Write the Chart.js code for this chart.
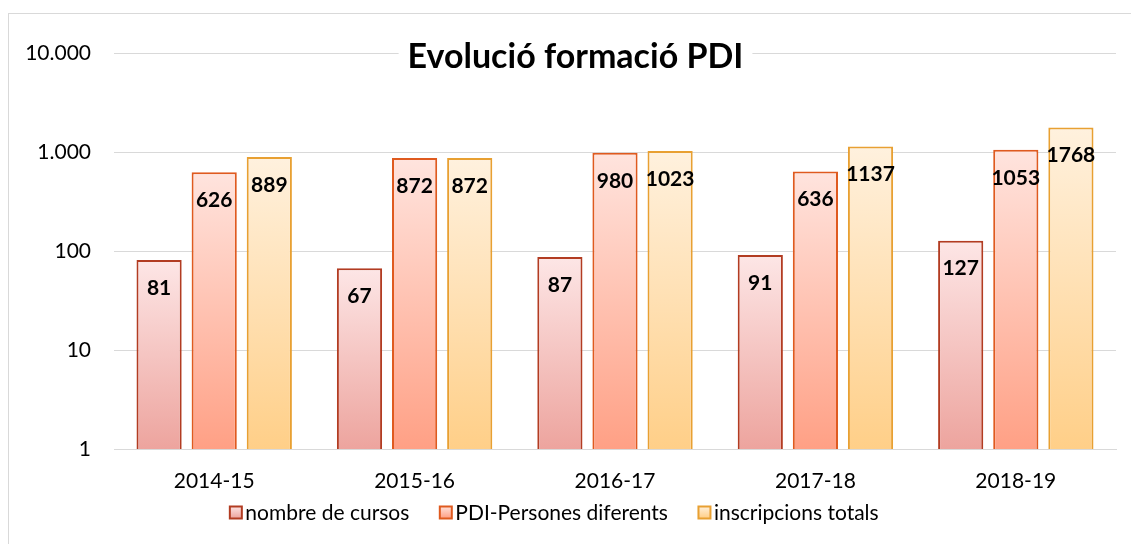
<!DOCTYPE html>
<html>
<head>
<meta charset="utf-8">
<script src="https://cdn.jsdelivr.net/npm/chart.js@4"></script>
<style>
  html, body { margin: 0; padding: 0; background: #fff; }
  #wrap { position: relative; width: 1131px; height: 544px; }
</style>
</head>
<body>
<div id="wrap"><canvas id="myChart"></canvas></div>
<script>
const categories = ['2014-15', '2015-16', '2016-17', '2017-18', '2018-19']
const nombreCursos = [81, 67, 87, 91, 127]
const pdiPersones = [626, 872, 980, 636, 1053]
const inscripcions = [889, 872, 1023, 1137, 1768]
const yTicks = [1, 10, 100, 1000, 10000]
const titol = 'Evolució formació PDI'

const FONT = 'Lato, "Open Sans", sans-serif'

// top colour, bottom colour, border
const colors = [
  ['#fde6e6', '#eda49e', '#b23c22'],
  ['#ffe4de', '#ffa085', '#df5a1f'],
  ['#fff1de', '#ffcf88', '#e8a032']
]

function barGradient(idx) {
  return function (context) {
    const chart = context.chart
    const area = chart.chartArea
    if (!area || context.type !== 'data') return colors[idx][1]
    const top = chart.scales.y.getPixelForValue(context.raw)
    const g = chart.ctx.createLinearGradient(0, top, 0, area.bottom)
    g.addColorStop(0, colors[idx][0])
    g.addColorStop(1, colors[idx][1])
    return g
  }
}

// labels inside the bar, near the top
const valueLabels = {
  id: 'valueLabels',
  afterDatasetsDraw(chart) {
    const ctx = chart.ctx
    ctx.save()
    ctx.font = 'bold 21px ' + FONT
    ctx.fillStyle = '#000'
    ctx.textAlign = 'center'
    ctx.textBaseline = 'middle'
    chart.data.datasets.forEach((ds, i) => {
      chart.getDatasetMeta(i).data.forEach((bar, j) => {
        ctx.fillText(ds.data[j], bar.x, bar.y + 28)
      })
    })
    ctx.restore()
  }
}

// title sitting on the top grid line, plus frame and legend
const decor = {
  id: 'decor',
  beforeDraw(chart) {
    const ctx = chart.ctx
    ctx.save()
    ctx.fillStyle = '#fff'
    ctx.fillRect(0, 0, chart.width, chart.height)
    ctx.strokeStyle = '#d9d9d9'
    ctx.lineWidth = 1
    ctx.strokeRect(8.5, 13.5, chart.width, chart.height)
    ctx.restore()
  },
  afterDraw(chart) {
    const ctx = chart.ctx
    const area = chart.chartArea
    ctx.save()
    ctx.font = 'bold 34px ' + FONT
    const tw = ctx.measureText(titol).width
    const cx = 575.5
    ctx.fillStyle = '#fff'
    ctx.fillRect(cx - tw / 2 - 9, area.top - 15, tw + 18, 30)
    ctx.fillStyle = '#000'
    ctx.textAlign = 'center'
    ctx.textBaseline = 'alphabetic'
    ctx.fillText(titol, cx, 68)

    // legend
    ctx.font = '21px ' + FONT
    ctx.textAlign = 'left'
    ctx.textBaseline = 'middle'
    const box = 12, gapText = 4, gapItem = 30
    const items = chart.data.datasets.map(d => d.label)
    const widths = items.map(t => box + gapText + ctx.measureText(t).width)
    const total = widths.reduce((a, b) => a + b, 0) + gapItem * (items.length - 1)
    let x = 554 - total / 2
    const y = 512
    items.forEach((t, i) => {
      const g = ctx.createLinearGradient(0, y - box / 2, 0, y + box / 2)
      g.addColorStop(0, colors[i][0])
      g.addColorStop(1, colors[i][1])
      ctx.fillStyle = g
      ctx.fillRect(x + 0.5, y - box / 2 + 0.5, box, box)
      ctx.strokeStyle = colors[i][2]
      ctx.lineWidth = 2
      ctx.strokeRect(x + 0.5, y - box / 2 + 0.5, box, box)
      ctx.fillStyle = '#000'
      ctx.fillText(t, x + box + gapText, y + 1)
      x += widths[i] + gapItem
    })
    ctx.restore()
  }
}

const ctx = document.getElementById('myChart').getContext('2d')
const myChart = new Chart(ctx, {
  type: 'bar',
  data: {
    labels: categories,
    datasets: [{
      label: 'nombre de cursos',
      data: nombreCursos,
      backgroundColor: barGradient(0),
      borderColor: colors[0][2],
      borderWidth: 2,
      borderSkipped: 'bottom'
    }, {
      label: 'PDI-Persones diferents',
      data: pdiPersones,
      backgroundColor: barGradient(1),
      borderColor: colors[1][2],
      borderWidth: 2,
      borderSkipped: 'bottom'
    }, {
      label: 'inscripcions totals',
      data: inscripcions,
      backgroundColor: barGradient(2),
      borderColor: colors[2][2],
      borderWidth: 2,
      borderSkipped: 'bottom'
    }]
  },
  plugins: [decor, valueLabels],
  options: {
    responsive: true,
    maintainAspectRatio: false,
    animation: false,
    datasets: {
      bar: { categoryPercentage: 0.825, barPercentage: 0.82 }
    },
    layout: { padding: { left: 0, right: 15, top: 53, bottom: 0 } },
    plugins: {
      legend: { display: false },
      tooltip: { enabled: false },
      title: { display: false }
    },
    scales: {
      x: {
        grid: { display: false, drawTicks: false },
        border: { color: '#d9d9d9', width: 1 },
        ticks: { color: '#000', font: { family: FONT, size: 21 }, padding: 20 },
        afterFit(scale) { scale.height = 95 }
      },
      y: {
        type: 'logarithmic',
        min: 1,
        max: 10000,
        afterBuildTicks(axis) { axis.ticks = yTicks.map(v => ({ value: v })) },
        grid: { color: '#d9d9d9', drawTicks: false },
        border: { display: false },
        ticks: {
          color: '#000',
          font: { family: FONT, size: 21 },
          padding: 23,
          callback: v => v.toLocaleString('de-DE')
        },
        afterFit(scale) { scale.width = 114 }
      }
    }
  }
})
</script>
</body>
</html>
